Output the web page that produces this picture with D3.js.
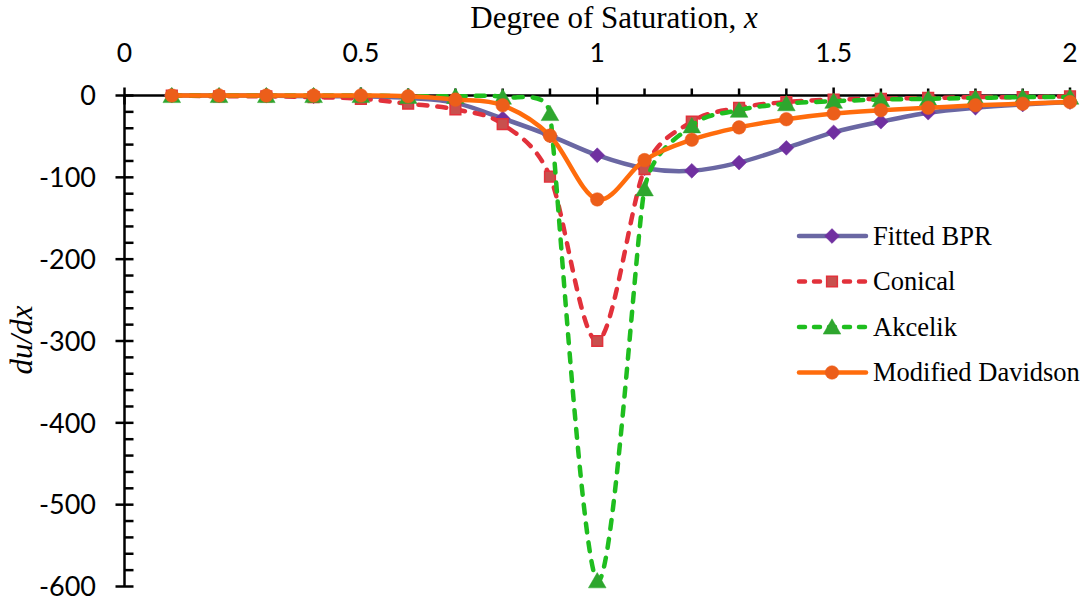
<!DOCTYPE html>
<html>
<head>
<meta charset="utf-8">
<script src="https://cdn.jsdelivr.net/npm/d3@7"></script>
<style>
  html, body { margin: 0; padding: 0; background: #fff; }
  svg { display: block; }
</style>
</head>
<body>
<svg id="chart" width="1084" height="602"></svg>
<script>
// Degree of saturation samples
const degree = [0.1, 0.2, 0.3, 0.4, 0.5, 0.6, 0.7, 0.8, 0.9, 1.0,
                1.1, 1.2, 1.3, 1.4, 1.5, 1.6, 1.7, 1.8, 1.9, 2.0];

// du/dx for each delay model
const fittedBPR = [0, 0, 0, -1, -1, -3, -9, -28, -49, -73,
                   -89, -92, -82, -64, -45, -32, -21, -15, -11, -8];
const conical = [0, -1, -1, -2, -4, -10, -17, -35, -99, -300,
                 -90, -32, -15, -8, -5, -4, -3, -2, -2, -1];
const akcelik = [0, 0, 0, 0, 0, -1, -1, -2, -22, -593,
                 -114, -37, -18, -10, -7, -5, -4, -3, -2, -2];
const modDavidson = [0, 0, 0, 0, 0, -1, -5, -12, -49, -127,
                     -79, -54, -39, -29, -22, -18, -15, -12, -10, -8];

const seriesNames = ["Fitted BPR", "Conical", "Akcelik", "Modified Davidson"];

const xTickLabels = ["0", "0.5", "1", "1.5", "2"];
const yTickLabels = ["0", "-100", "-200", "-300", "-400", "-500", "-600"];

// Spreadsheet-style smoothed line: cubic Bezier segments whose tangent at each
// point is parallel to the chord of its neighbours, with the handle length
// capped so the curve does not overshoot next to abrupt changes.
function SmoothCurve(context) { this._context = context; }
SmoothCurve.prototype = {
  areaStart() {}, areaEnd() {},
  lineStart() { this._pts = []; },
  point(px, py) { this._pts.push([+px, +py]); },
  lineEnd() {
    const p = this._pts, n = p.length, c = this._context;
    if (!n) return;
    c.moveTo(p[0][0], p[0][1]);
    if (n === 1) return;
    const dist = (a, b) => Math.hypot(b[0] - a[0], b[1] - a[1]);
    const off = p.map((pt, i) => {
      if (i === 0 || i === n - 1) {
        const a = p[i === 0 ? 0 : n - 2], b = p[i === 0 ? 1 : n - 1];
        return [(b[0] - a[0]) / 6, (b[1] - a[1]) / 6];
      }
      const a = p[i - 1], b = p[i + 1];
      const d02 = dist(a, b), d01 = dist(a, pt), d12 = dist(pt, b);
      if (d02 === 0) return [0, 0];
      const len = Math.min(d02 / 6, d01 / 2, d12 / 2);
      return [(b[0] - a[0]) / d02 * len, (b[1] - a[1]) / d02 * len];
    });
    for (let i = 0; i < n - 1; i++) {
      c.bezierCurveTo(
        p[i][0] + off[i][0], p[i][1] + off[i][1],
        p[i + 1][0] - off[i + 1][0], p[i + 1][1] - off[i + 1][1],
        p[i + 1][0], p[i + 1][1]);
    }
  }
};
const curveSmooth = ctx => new SmoothCurve(ctx);

const svg = d3.select("#chart");

const x = d3.scaleLinear().domain([0, 2]).range([124.5, 1070]);
const y = d3.scaleLinear().domain([-600, 0]).range([586.5, 95.5]);

const tickFont = "Lato, 'Open Sans', sans-serif";
const serifFont = "'Liberation Serif', 'DejaVu Serif', serif";

const styles = [
  { data: fittedBPR, line: "#6A67A3", fill: "#7030A0", stroke: "#7030A0", dash: null, marker: "diamond" },
  { data: conical, line: "#E2313B", fill: "#C8504E", stroke: "#E2313B", dash: "9,10", marker: "square" },
  { data: akcelik, line: "#1FBE1F", fill: "#2EA62E", stroke: "#2EA62E", dash: "9,10", marker: "triangle" },
  { data: modDavidson, line: "#FF6C0C", fill: "#EC5E1A", stroke: "#EC5E1A", dash: null, marker: "circle" }
];

const symbolFor = {
  diamond: d3.symbol().type(d3.symbolDiamond2).size(140),
  square: d3.symbol().type(d3.symbolSquare).size(115),
  triangle: d3.symbol().type(d3.symbolTriangle).size(135),
  circle: d3.symbol().type(d3.symbolCircle).size(145)
};
const markerOffset = { diamond: 0, square: 0, triangle: 2, circle: 0 };

// ---- Axes ----
const xMinor = d3.range(0, 2.0001, 0.1).map(v => +v.toFixed(1));
const xMajor = [0, 0.5, 1, 1.5, 2];
const yMinor = d3.range(-600, 0.001, 20);
const yMajor = d3.range(-600, 0.001, 100);

const axes = svg.append("g").attr("stroke", "#000").attr("stroke-width", 2.5);

// top (category) axis line
axes.append("line")
  .attr("x1", x(0)).attr("x2", x(2))
  .attr("y1", y(0)).attr("y2", y(0));
// left (value) axis line
axes.append("line")
  .attr("x1", x(0)).attr("x2", x(0))
  .attr("y1", y(0)).attr("y2", y(-600));

// x minor ticks point up, majors cross
axes.selectAll(".xminor").data(xMinor.filter(v => !xMajor.some(m => Math.abs(m - v) < 1e-6)))
  .join("line")
  .attr("x1", d => x(d)).attr("x2", d => x(d))
  .attr("y1", y(0) - 7).attr("y2", y(0));
axes.selectAll(".xmajor").data(xMajor)
  .join("line")
  .attr("x1", d => x(d)).attr("x2", d => x(d))
  .attr("y1", y(0) - 8).attr("y2", y(0) + 9);

// y minor ticks point right, majors cross
axes.selectAll(".yminor").data(yMinor.filter(v => v % 100 !== 0))
  .join("line")
  .attr("x1", x(0)).attr("x2", x(0) + 9)
  .attr("y1", d => y(d)).attr("y2", d => y(d));
axes.selectAll(".ymajor").data(yMajor)
  .join("line")
  .attr("x1", x(0) - 9).attr("x2", x(0) + 9)
  .attr("y1", d => y(d)).attr("y2", d => y(d));

// tick labels
svg.append("g").selectAll("text").data(xMajor)
  .join("text")
  .attr("x", d => x(d)).attr("y", 61.5)
  .attr("text-anchor", "middle")
  .attr("font-family", tickFont).attr("font-size", 26.5)
  .attr("fill", "#000")
  .text((d, i) => xTickLabels[i]);

svg.append("g").selectAll("text").data(yMajor.slice().reverse())
  .join("text")
  .attr("x", 96).attr("y", d => y(d))
  .attr("dy", "0.36em")
  .attr("text-anchor", "end")
  .attr("font-family", tickFont).attr("font-size", 27)
  .attr("fill", "#000")
  .text((d, i) => yTickLabels[i]);

// axis titles
const xTitle = svg.append("text")
  .attr("x", 614).attr("y", 28)
  .attr("text-anchor", "middle")
  .attr("font-family", serifFont).attr("font-size", 31)
  .attr("fill", "#000");
xTitle.append("tspan").text("Degree of Saturation, ");
xTitle.append("tspan").attr("font-style", "italic").text("x");

svg.append("text")
  .attr("transform", "translate(32,340) rotate(-90)")
  .attr("text-anchor", "middle")
  .attr("font-family", serifFont).attr("font-size", 31)
  .attr("font-style", "italic")
  .attr("fill", "#000")
  .text("du/dx");

// ---- Series ----
const line = d3.line()
  .x((d, i) => x(degree[i]))
  .y(d => y(d))
  .curve(curveSmooth);

const plot = svg.append("g");
styles.forEach(s => {
  const g = plot.append("g");
  g.append("path")
    .datum(s.data)
    .attr("d", line)
    .attr("fill", "none")
    .attr("stroke", s.line)
    .attr("stroke-width", 4.5)
    .attr("stroke-linecap", "round")
    .attr("stroke-linejoin", "round")
    .attr("stroke-dasharray", s.dash);
  g.selectAll("path.mk").data(s.data)
    .join("path")
    .attr("class", "mk")
    .attr("transform", (d, i) => `translate(${x(degree[i])},${y(d) + markerOffset[s.marker]})`)
    .attr("d", symbolFor[s.marker]())
    .attr("fill", s.fill)
    .attr("stroke", s.stroke)
    .attr("stroke-width", s.marker === "square" ? 1.5 : 0.5);
});

// ---- Legend ----
const legend = svg.append("g");
const legendTop = 236, legendStep = 45.5;
styles.forEach((s, i) => {
  const ly = legendTop + i * legendStep;
  const row = legend.append("g");
  row.append("line")
    .attr("x1", 799).attr("x2", 866)
    .attr("y1", ly).attr("y2", ly)
    .attr("stroke", s.line)
    .attr("stroke-width", 4.5)
    .attr("stroke-linecap", "round")
    .attr("stroke-dasharray", s.dash ? "6,9" : null);
  row.append("path")
    .attr("transform", `translate(832,${ly + markerOffset[s.marker]})`)
    .attr("d", symbolFor[s.marker]())
    .attr("fill", s.fill)
    .attr("stroke", s.stroke)
    .attr("stroke-width", s.marker === "square" ? 1.5 : 0.5);
  row.append("text")
    .attr("x", 873).attr("y", ly)
    .attr("dy", "0.33em")
    .attr("font-family", serifFont).attr("font-size", 26.5)
    .attr("fill", "#000")
    .text(seriesNames[i]);
});
</script>
</body>
</html>
